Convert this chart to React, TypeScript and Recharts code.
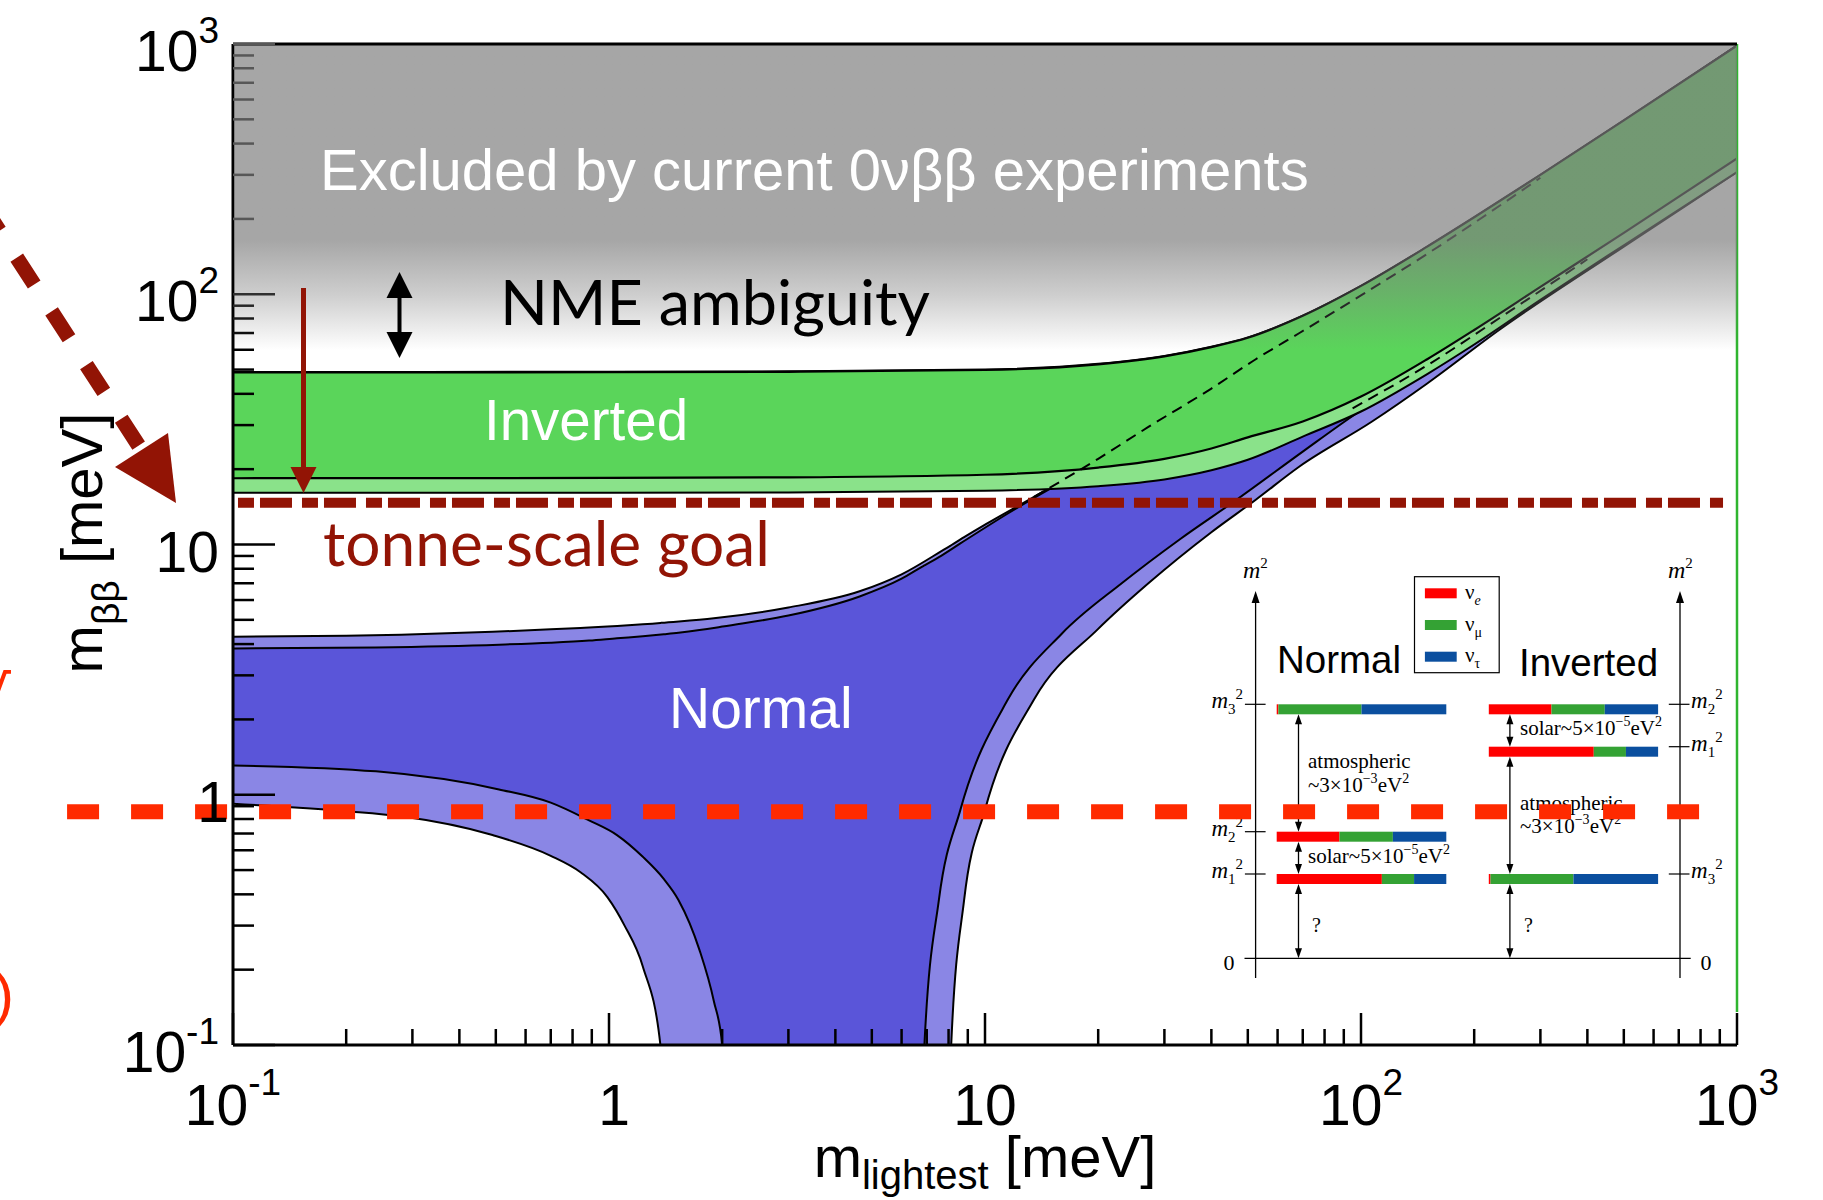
import React from 'react';
import { ComposedChart, Area, Line, XAxis, YAxis, ReferenceLine, ReferenceArea, Customized } from 'recharts';

// [m_lightest, lower m_bb, upper m_bb] in meV
const noOuter: number[][] = [
  [0.1, 0.92, 4.28], [0.2, 0.86, 4.32], [0.28, 0.82, 4.36], [0.49, 0.69, 4.48], [0.7, 0.57, 4.58],
  [0.84, 0.49, 4.64], [0.99, 0.39, 4.7], [1.1, 0.3, 4.75], [1.23, 0.206, 4.8], [1.37, 0.1, 4.86],
  [1.375, 0.01, 4.8623], [1.9, 0.01, 5.07], [3, 0.01, 5.6], [4.64, 0.01, 6.5], [6, 0.01, 7.6],
  [8.1, 0.01, 9.9], [8.13, 0.1, 9.932], [8.8, 0.38, 10.7], [10, 0.87, 12.0], [13.5, 2.4, 15.5],
  [20, 4.6, 22], [27.2, 7.0, 29.5], [40, 11.2, 42], [52.5, 15.1, 55], [68.6, 20.5, 70],
  [107, 31, 104], [150, 44, 145], [233, 72, 228], [500, 155, 490], [1000, 308, 985],
];
const noInner: number[][] = [
  [0.1, 1.31, 3.84], [0.24, 1.24, 3.88], [0.51, 1.05, 3.98], [0.7, 0.93, 4.05], [0.885, 0.79, 4.13],
  [1.05, 0.69, 4.22], [1.23, 0.565, 4.3], [1.4, 0.46, 4.38], [1.53, 0.38, 4.44], [1.74, 0.24, 4.55],
  [1.9, 0.15, 4.64], [2.0, 0.1, 4.7], [2.005, 0.01, 4.7029], [3, 0.01, 5.2], [4.64, 0.01, 6.2],
  [6, 0.01, 7.3], [6.85, 0.01, 8.2], [6.9, 0.1, 8.25], [7.54, 0.38, 8.9], [8.6, 0.87, 10.1],
  [11.5, 2.4, 13.3], [16, 4.4, 17.8], [23.1, 7.0, 24.8], [33, 10.5, 35], [46.7, 15.1, 48.5],
  [70, 23.5, 71], [94.4, 32.4, 94], [209, 66, 205], [500, 168, 490], [1000, 340, 985],
];
const ioOuter: number[][] = [
  [0.1, 16.1, 48.9], [1, 16.1, 49.0], [3, 16.15, 49.2], [10, 16.4, 50.0], [20, 17.1, 52.7],
  [30, 18.2, 56.7], [40, 19.8, 61.7], [50, 21.8, 67.2], [70, 27, 82.2], [100, 34, 108],
  [150, 48, 155], [200, 63, 203], [300, 95, 300], [500, 157, 495], [1000, 308, 985],
];
const ioInner: number[][] = [
  [0.1, 18.4, 48.7], [1, 18.45, 48.8], [3, 18.55, 49.0], [10, 19.0, 49.8], [20, 20.3, 52.5],
  [30, 22.0, 56.5], [40, 24.2, 61.5], [50, 26.8, 67], [70, 31, 82], [100, 39, 108],
  [150, 55, 155], [200, 72, 203], [300, 107, 300], [500, 176, 495], [1000, 349, 985],
];
// hidden boundaries drawn dashed on top of the inverted band
const noUpperHidden: number[][] = [
  [13.5, 15.5], [20, 22], [27.2, 29.5], [40, 42], [52.5, 55], [68.6, 70], [100, 99], [150, 145], [240, 232], [300, 292],
];
const lowerHidden: number[][] = [[95, 35], [150, 52], [250, 86], [400, 138]];

const GOAL = 14.7;        // tonne-scale sensitivity
const NEXT_GOAL = 0.855;  // red dashed line
const EXCL_EDGE = 59.8;   // bottom of excluded shading

const decades = [0.1, 1, 10, 100, 1000];
const decadeBase = ['10', '1', '10', '10', '10'];
const decadeSup = ['-1', '', '', '2', '3'];
const minorSteps = [2, 3, 4, 5, 6, 7, 8, 9];
const axisTicks = [...decades, ...decades.slice(0, -1).flatMap(d => minorSteps.map(s => d * s))].sort((a, b) => a - b);

// inset: flavour content of each mass state (e, mu, tau)
const flavourColors = ['#ff0000', '#34a234', '#0b4f9f'];
const normalLevels = [[0.01, 0.49, 0.5], [0.37, 0.315, 0.315], [0.62, 0.19, 0.19]];
const invertedLevels = [[0.37, 0.315, 0.315], [0.62, 0.19, 0.19], [0.01, 0.49, 0.5]];
const normalSubs = ['3', '2', '1'];
const invertedSubs = ['2', '1', '3'];

const SANS = "'Liberation Sans', Arial, Helvetica, sans-serif";
const SERIF = "'Liberation Serif', 'Times New Roman', serif";
const DARK_RED = '#921405';

const toBand = (rows: number[][]) => rows.map(([x, lo, hi]) => ({ x, band: [lo, hi] }));
const toLine = (rows: number[][]) => rows.map(([x, y]) => ({ x, y }));
const decadeIndex = (v: number) => decades.findIndex(d => Math.abs(d - v) / d < 1e-6);

// ticks sit under the grey "excluded" shading
function shadedTickColor(py: number) {
  let a = 0;
  if (py <= 240) a = 0.69;
  else if (py <= 295) a = 0.69 - 0.31 * (py - 240) / 55;
  else if (py <= 350) a = 0.38 * (350 - py) / 55;
  const g = Math.round(126 * a);
  return `rgb(${g},${g},${g})`;
}

function YTick(props: any) {
  const { x, y, payload } = props;
  const i = decadeIndex(payload.value);
  const major = i >= 0;
  return (
    <g>
      <line x1={x} x2={x + (major ? 42 : 21)} y1={y} y2={y} stroke={shadedTickColor(y)} strokeWidth={2.5} />
      {major && (
        <text x={decadeBase[i] === '1' ? x - 4 : x - 14} y={y + 27} textAnchor="end" fontSize={57} fontFamily={SANS} fill="#000">
          {decadeBase[i]}
          {decadeSup[i] && <tspan dy={-28} fontSize={37}>{decadeSup[i]}</tspan>}
        </text>
      )}
    </g>
  );
}

function XTick(props: any) {
  const { x, y, payload } = props;
  const i = decadeIndex(payload.value);
  const major = i >= 0;
  return (
    <g>
      <line x1={x} x2={x} y1={y} y2={y - (major ? 32 : 16)} stroke="#000" strokeWidth={2.5} />
      {major && (
        <text x={decadeBase[i] === '1' ? x + 5 : x} y={y + 80} textAnchor="middle" fontSize={57} fontFamily={SANS} fill="#000">
          {decadeBase[i]}
          {decadeSup[i] && <tspan dy={-30} fontSize={37}>{decadeSup[i]}</tspan>}
        </text>
      )}
    </g>
  );
}

function vArrow(x: number, y1: number, y2: number, key: string) {
  return (
    <g key={key}>
      <line x1={x} x2={x} y1={y1 + 8} y2={y2 - 8} stroke="#000" strokeWidth={1.3} />
      <path d={`M${x - 3.5},${y1 + 10} L${x},${y1} L${x + 3.5},${y1 + 10} Z`} fill="#000" />
      <path d={`M${x - 3.5},${y2 - 10} L${x},${y2} L${x + 3.5},${y2 - 10} Z`} fill="#000" />
    </g>
  );
}

function massLabel(x: number, y: number, sub: string, anchor: 'start' | 'end', key: string) {
  return (
    <text key={key} x={x} y={y + 4} textAnchor={anchor} fontFamily={SERIF} fontStyle="italic" fontSize={23} fill="#000">
      m<tspan fontSize={15} dy={6} fontStyle="normal">{sub}</tspan>
      <tspan fontSize={15} dy={-15} fontStyle="normal">2</tspan>
    </text>
  );
}

function Inset() {
  const nx = [1276.7, 1446.3];
  const ix = [1488.8, 1658.1];
  const nTops = [704.3, 831.7, 874];
  const iTops = [704.3, 746.7, 874];
  const bars = (x0: number, x1: number, top: number, fr: number[], key: string) => {
    let acc = x0;
    return fr.map((f, i) => {
      const w = f * (x1 - x0);
      const r = <rect key={key + i} x={acc} y={top} width={w} height={10} fill={flavourColors[i]} />;
      acc += w;
      return r;
    });
  };
  const axisArrow = (x: number) => (
    <g>
      <line x1={x} x2={x} y1={978} y2={598} stroke="#000" strokeWidth={1.3} />
      <path d={`M${x - 4},${603} L${x},${591} L${x + 4},${603} Z`} fill="#000" />
    </g>
  );
  const eV = (x: number, y: number, txt: string, exp: string) => (
    <text x={x} y={y} fontFamily={SERIF} fontSize={21} fill="#000">
      {txt}<tspan fontSize={14} dy={-9}>{exp}</tspan><tspan dy={9}>eV</tspan><tspan fontSize={14} dy={-9}>2</tspan>
    </text>
  );
  return (
    <g>
      {axisArrow(1255.6)}
      {axisArrow(1680)}
      <line x1={1244.5} x2={1690.7} y1={958.3} y2={958.3} stroke="#000" strokeWidth={1.3} />
      <text x={1229} y={970} textAnchor="middle" fontFamily={SERIF} fontSize={22}>0</text>
      <text x={1706} y={970} textAnchor="middle" fontFamily={SERIF} fontSize={22}>0</text>
      {[1243, 1668].map(x => (
        <text key={x} x={x} y={578} fontFamily={SERIF} fontStyle="italic" fontSize={24}>m<tspan fontSize={15} dy={-10} fontStyle="normal">2</tspan></text>
      ))}
      <text x={1277} y={673} fontFamily={SANS} fontSize={38.5} fill="#000">Normal</text>
      <text x={1519} y={676} fontFamily={SANS} fontSize={38.5} fill="#000">Inverted</text>
      <rect x={1414.5} y={576.7} width={84.7} height={96} fill="#fff" stroke="#000" strokeWidth={1.2} />
      {['e', 'μ', 'τ'].map((s, i) => (
        <g key={s}>
          <rect x={1424.9} y={588.3 + i * 31.7} width={31.8} height={10} fill={flavourColors[i]} />
          <text x={1465} y={599 + i * 31.7} fontFamily={SERIF} fontSize={21}>ν<tspan fontSize={14} dy={6} fontStyle={s === 'e' ? 'italic' : 'normal'}>{s}</tspan></text>
        </g>
      ))}
      {normalLevels.map((fr, i) => (
        <g key={'n' + i}>
          {bars(nx[0], nx[1], nTops[i], fr, 'nb' + i)}
          <line x1={1244.9} x2={1265.6} y1={nTops[i]} y2={nTops[i]} stroke="#000" strokeWidth={1.2} />
          {massLabel(1243, nTops[i], normalSubs[i], 'end', 'nl' + i)}
        </g>
      ))}
      {invertedLevels.map((fr, i) => (
        <g key={'i' + i}>
          {bars(ix[0], ix[1], iTops[i], fr, 'ib' + i)}
          <line x1={1668.8} x2={1689.5} y1={iTops[i]} y2={iTops[i]} stroke="#000" strokeWidth={1.2} />
          {massLabel(1691, iTops[i], invertedSubs[i], 'start', 'il' + i)}
        </g>
      ))}
      {vArrow(1298.5, 714.3, 831.7, 'a1')}
      {vArrow(1298.5, 841.7, 874, 'a2')}
      {vArrow(1298.5, 884, 958.3, 'a3')}
      {vArrow(1509.9, 714.3, 746.7, 'a4')}
      {vArrow(1509.9, 756.7, 874, 'a5')}
      {vArrow(1509.9, 884, 958.3, 'a6')}
      <text x={1308} y={768} fontFamily={SERIF} fontSize={21}>atmospheric</text>
      {eV(1308, 792, '~3×10', '−3')}
      {eV(1308, 863, 'solar~5×10', '−5')}
      <text x={1312} y={932} fontFamily={SERIF} fontSize={20}>?</text>
      {eV(1520, 735, 'solar~5×10', '−5')}
      <text x={1520} y={810} fontFamily={SERIF} fontSize={21}>atmospheric</text>
      {eV(1520, 833, '~3×10', '−3')}
      <text x={1524} y={932} fontFamily={SERIF} fontSize={20}>?</text>
    </g>
  );
}

function Annotations() {
  return (
    <svg width={1823} height={1200} style={{ position: 'absolute', left: 0, top: 0, pointerEvents: 'none' }}>
      <text x={320} y={190} fontFamily={SANS} fontSize={58} fill="#fff">Excluded by current 0νββ experiments</text>
      <text x={500} y={325} fontFamily="Lato, 'Open Sans', sans-serif" fontSize={62} fill="#000" textLength={430} lengthAdjust="spacingAndGlyphs">NME ambiguity</text>
      <line x1={399.5} x2={399.5} y1={292} y2={338} stroke="#000" strokeWidth={4} />
      <path d="M386.5,298 L399.5,272 L412.5,298 Z" fill="#000" />
      <path d="M386.5,332 L399.5,358 L412.5,332 Z" fill="#000" />
      <text x={484} y={440} fontFamily={SANS} fontSize={56.5} fill="#fff">Inverted</text>
      <text x={669} y={728} fontFamily={SANS} fontSize={57} fill="#fff">Normal</text>
      <text x={323} y={566} fontFamily="Lato, 'Open Sans', sans-serif" fontSize={62} fill={DARK_RED} textLength={447} lengthAdjust="spacingAndGlyphs">tonne-scale goal</text>
      <line x1={303.5} x2={303.5} y1={288} y2={470} stroke={DARK_RED} strokeWidth={5} />
      <path d="M290.5,467 L303.5,493 L316.5,467 Z" fill={DARK_RED} />
      <line x1={-79} y1={110} x2={141.5} y2={450} stroke={DARK_RED} strokeWidth={15} strokeDasharray="32 32" strokeDashoffset={16} />
      <path d="M115,467 L168,433 L176,503 Z" fill={DARK_RED} />
      <text x={985} y={1177} textAnchor="middle" fontFamily={SANS} fontSize={58} fill="#000">
        m<tspan fontSize={40} dy={12}>lightest</tspan><tspan dy={-12}> [meV]</tspan>
      </text>
      <text x={102} y={543} transform="rotate(-90 102 543)" textAnchor="middle" fontFamily={SANS} fontSize={58} fill="#000">
        m<tspan fontSize={39} dy={17}>ββ</tspan><tspan dy={-17}> [meV]</tspan>
      </text>
      <text x={-40} y={735} fontFamily="'DejaVu Sans', sans-serif" fontSize={80} fill="#ff2a00">√</text>
      <text x={-6} y={1015} fontFamily={SANS} fontSize={60} fill="#ff2a00">)</text>
    </svg>
  );
}

export default function App() {
  return (
    <div style={{ position: 'relative', width: 1823, height: 1200, background: '#fff' }}>
      <style>{'body{margin:0}'}</style>
      <ComposedChart width={1823} height={1200} margin={{ top: 44, right: 86, bottom: 0, left: 0 }}>
        <defs>
          <linearGradient id="exclGrad" x1="0" y1="0" x2="0" y2="1">
            <stop offset="0" stopColor="#7e7e7e" stopOpacity={0.69} />
            <stop offset="0.64" stopColor="#7e7e7e" stopOpacity={0.69} />
            <stop offset="0.82" stopColor="#7e7e7e" stopOpacity={0.38} />
            <stop offset="1" stopColor="#7e7e7e" stopOpacity={0} />
          </linearGradient>
        </defs>
        <XAxis dataKey="x" type="number" scale="log" domain={[0.1, 1000]} allowDataOverflow ticks={axisTicks} interval={0}
          tickSize={0} tickMargin={0} tick={<XTick />} tickLine={false} height={155} axisLine={{ stroke: '#000', strokeWidth: 3 }} />
        <YAxis type="number" scale="log" domain={[0.1, 1000]} allowDataOverflow ticks={axisTicks} interval={0}
          tickSize={0} tickMargin={0} tick={<YTick />} tickLine={false} width={233} axisLine={{ stroke: '#000', strokeWidth: 3 }} />
        <Area data={toBand(noOuter)} dataKey="band" type="monotone" fill="#8a86e5" fillOpacity={1} stroke="#000" strokeWidth={2} dot={false} activeDot={false} isAnimationActive={false} />
        <Area data={toBand(noInner)} dataKey="band" type="monotone" fill="#5a55d9" fillOpacity={1} stroke="#000" strokeWidth={2} dot={false} activeDot={false} isAnimationActive={false} />
        <Area data={toBand(ioOuter)} dataKey="band" type="monotone" fill="#8ae28a" fillOpacity={1} stroke="#000" strokeWidth={2} dot={false} activeDot={false} isAnimationActive={false} />
        <Area data={toBand(ioInner)} dataKey="band" type="monotone" fill="#5ad55a" fillOpacity={1} stroke="#000" strokeWidth={2.2} dot={false} activeDot={false} isAnimationActive={false} />
        <Line data={toLine(noUpperHidden)} dataKey="y" type="monotone" stroke="#000" strokeWidth={2} strokeDasharray="11 7" dot={false} activeDot={false} isAnimationActive={false} />
        <Line data={toLine(lowerHidden)} dataKey="y" type="monotone" stroke="#000" strokeWidth={2} strokeDasharray="11 7" dot={false} activeDot={false} isAnimationActive={false} />
        <ReferenceLine segment={[{ x: 1000, y: 0.1355 }, { x: 1000, y: 1000 }]} stroke="#2fb52f" strokeWidth={2.5} ifOverflow="visible" zIndex={450} />
        <ReferenceArea x1={0.10092} x2={1000} y1={EXCL_EDGE} y2={1000} fill="url(#exclGrad)" fillOpacity={1} stroke="none" zIndex={600} />
        <Customized component={Inset} />
        <ReferenceLine y={1000} stroke="#000" strokeWidth={3} zIndex={700} />
        <ReferenceLine segment={[{ x: 0.1031, y: GOAL }, { x: 918, y: GOAL }]} stroke={DARK_RED} strokeWidth={10} strokeDasharray="16 6 32 10" ifOverflow="visible" zIndex={700} />
        <ReferenceLine segment={[{ x: 0.0362, y: NEXT_GOAL }, { x: 963, y: NEXT_GOAL }]} stroke="#ff2a00" strokeWidth={15} strokeDasharray="32 32" ifOverflow="visible" zIndex={700} />
      </ComposedChart>
      <Annotations />
    </div>
  );
}
